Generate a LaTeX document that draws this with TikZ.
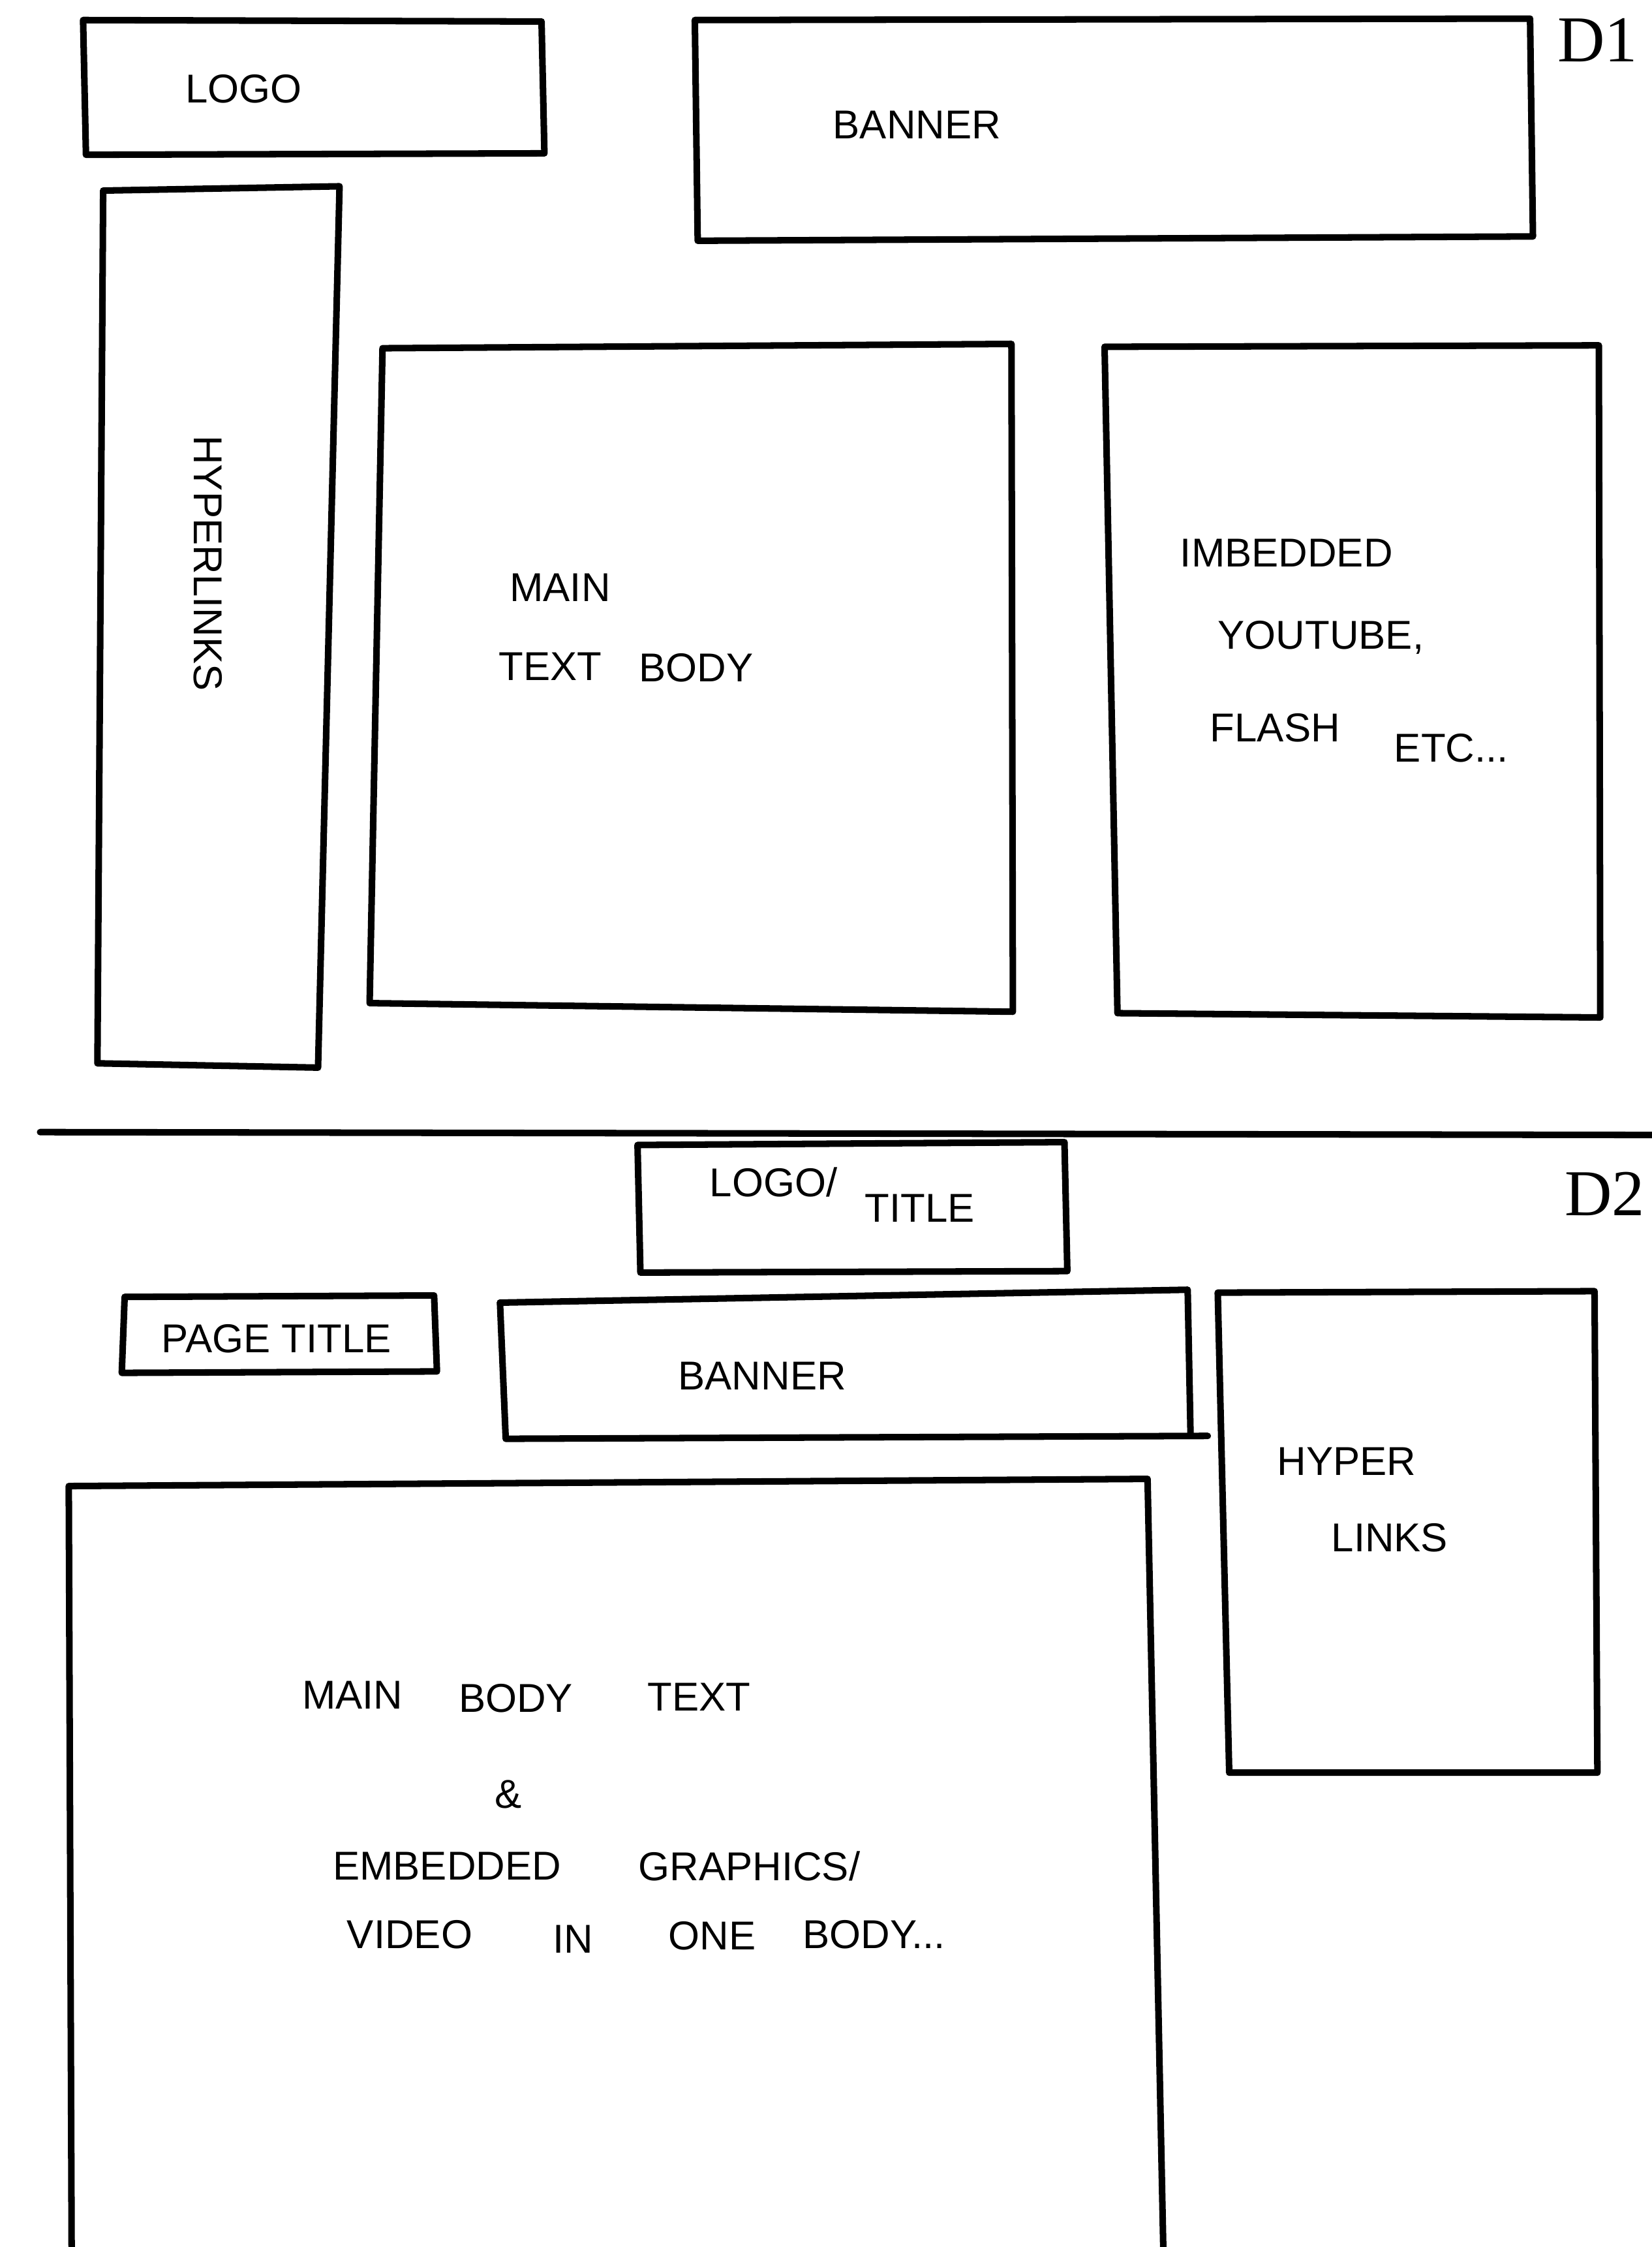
\documentclass[tikz,border=0pt]{standalone}
\usepackage{fontspec}
\setmainfont{Liberation Sans}
\newfontfamily\labelfont{Liberation Serif}
\begin{document}
\begin{tikzpicture}[x=0.02cm,y=-0.02cm,
  sketch/.style={draw=black,line width=2.6pt,line join=round,line cap=round},
  hand/.style={font=\fontsize{16}{18}\selectfont,inner sep=0pt},
  tag/.style={font=\labelfont\fontsize{26}{28}\selectfont,inner sep=0pt}]
\fill[white] (0,0) rectangle (1153,1568);
\useasboundingbox (0,0) rectangle (1153,1568);
% ---------- D1 ----------
\draw[sketch] (58,14) -- (378,15) -- (380,107) -- (60,108) -- cycle;
\node[hand] (logo1) at (170,62) {LOGO};
\draw[sketch] (485,14) -- (1068,13) -- (1070,165) -- (487,168) -- cycle;
\node[hand] (banner1) at (640,87) {BANNER};
\draw[sketch] (72,133) -- (237,130) -- (222,745) -- (68,742) -- cycle;
\node[hand,rotate=-90] (links1) at (145,393) {HYPERLINKS};
\draw[sketch] (267,243) -- (706,240) -- (707,706) -- (258,700) -- cycle;
\node[hand] (main1a) at (391,410) {MAIN};
\node[hand] (main1b) at (384,465) {TEXT};
\node[hand] (main1c) at (486,466) {BODY};
\draw[sketch] (771,242) -- (1116,241) -- (1117,710) -- (780,707) -- cycle;
\node[hand] (emb1a) at (898,386) {IMBEDDED};
\node[hand] (emb1b) at (922,445) {YOUTUBE,};
\node[hand] (emb1c) at (890,508) {FLASH};
\node[hand] (emb1d) at (1013,522) {ETC...};
\node[tag] (d1) at (1115,28) {D1};
% ---------- divider ----------
\coordinate (divL) at (28,790);
\coordinate (divR) at (1153,792);
\draw[sketch] (divL) -- (divR);
% ---------- D2 ----------
\draw[sketch] (445,799) -- (743,797) -- (745,887) -- (447,888) -- cycle;
\node[hand] (logo2a) at (540,825) {LOGO/};
\node[hand] (logo2b) at (642,843) {TITLE};
\node[tag] (d2) at (1120,833) {D2};
\draw[sketch] (87,905) -- (303,904) -- (305,957) -- (85,958) -- cycle;
\node[hand] (ptitle) at (193,934) {PAGE TITLE};
\draw[sketch] (349,909) -- (829,900) -- (831,1001);
\draw[sketch] (349,909) -- (353,1004) -- (843,1002);
\node[hand] (banner2) at (532,960) {BANNER};
\draw[sketch] (850,902) -- (1113,901) -- (1115,1237) -- (858,1237) -- cycle;
\node[hand] (links2a) at (940,1020) {HYPER};
\node[hand] (links2b) at (970,1073) {LINKS};
\draw[sketch] (50,1570) -- (48,1037) -- (801,1032) -- (812,1570);
\node[hand] (m2a) at (246,1183) {MAIN};
\node[hand] (m2b) at (360,1185) {BODY};
\node[hand] (m2c) at (488,1184) {TEXT};
\node[hand] (m2d) at (355,1252) {\&};
\node[hand] (m2e) at (312,1302) {EMBEDDED};
\node[hand] (m2f) at (523,1302) {GRAPHICS/};
\node[hand] (m2g) at (286,1350) {VIDEO};
\node[hand] (m2h) at (400,1353) {IN};
\node[hand] (m2i) at (497,1351) {ONE};
\node[hand] (m2j) at (610,1350) {BODY...};
\end{tikzpicture}
\end{document}
